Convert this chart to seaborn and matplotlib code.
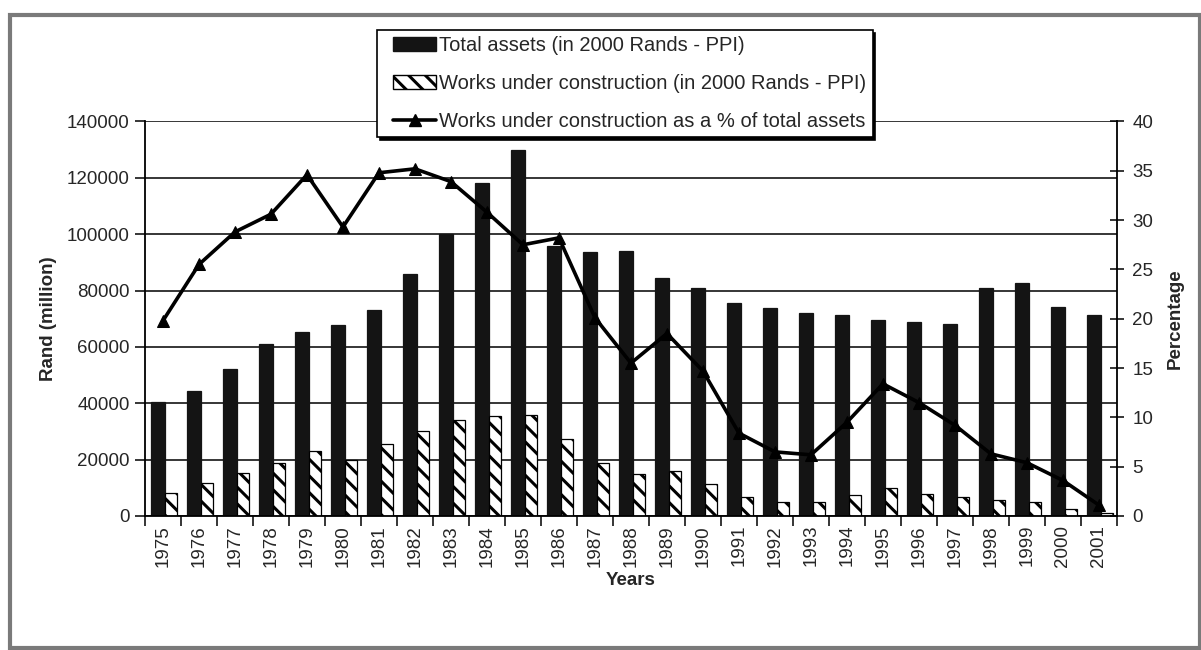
import numpy as np
import pandas as pd
import matplotlib
matplotlib.use("Agg")
import matplotlib.pyplot as plt
from matplotlib.patches import Patch, Rectangle
from matplotlib.lines import Line2D
from matplotlib.legend_handler import HandlerPatch, HandlerLine2D
from matplotlib.ticker import FixedLocator, StrMethodFormatter
import seaborn as sns

# ---- data -------------------------------------------------------------
years = [str(y) for y in range(1975, 2002)]
total_assets = [40600, 44300, 52200, 60900, 65400, 67800, 73200, 85800, 99900,
                118200, 129800, 95700, 93700, 94200, 84500, 80900, 75500, 73700,
                71900, 71300, 69500, 69000, 68300, 80800, 82700, 74200, 71200]
works_construction = [8000, 11600, 15100, 18900, 23000, 19900, 25600, 30300, 34100,
                      35400, 36000, 27200, 18900, 15000, 15800, 11300, 6700, 4900,
                      4900, 7400, 9800, 7900, 6700, 5600, 4900, 2400, 1200]
works_pct = [19.8, 25.5, 28.8, 30.6, 34.6, 29.3, 34.8, 35.2, 33.9, 30.8, 27.5,
             28.2, 20.1, 15.5, 18.5, 14.7, 8.4, 6.5, 6.2, 9.5, 13.4, 11.5, 9.2,
             6.3, 5.4, 3.6, 1.1]

label_total = "Total assets (in 2000 Rands - PPI)"
label_works = "Works under construction (in 2000 Rands - PPI)"
label_pct = "Works under construction as a % of total assets"

# ---- style ------------------------------------------------------------
sns.set_style("ticks")
plt.rcParams["font.family"] = ["Liberation Sans", "DejaVu Sans"]
plt.rcParams["hatch.linewidth"] = 2.2
FS = 13.5
LEG_FS = 14.5
BAR_BLACK = "#141414"

df = pd.DataFrame({
    "Year": years * 2,
    "Series": [label_total] * len(years) + [label_works] * len(years),
    "Value": total_assets + works_construction,
})

fig = plt.figure(figsize=(12.01, 6.5), dpi=100)
ax = fig.add_axes([0.1207, 0.2062, 0.8093, 0.6069])

sns.barplot(data=df, x="Year", y="Value", hue="Series",
            palette=[BAR_BLACK, "white"], saturation=1, width=0.72,
            edgecolor="black", linewidth=0.9, legend=False, ax=ax, zorder=2)

# adjust bar placement within each year slot
black_bars, hatch_bars = ax.containers[0], ax.containers[1]
for p in black_bars:
    p.set_x(p.get_x() + 0.03)
    p.set_width(0.39)
    p.set_edgecolor(BAR_BLACK)
for p in hatch_bars:
    p.set_x(p.get_x() + 0.06)
    p.set_width(0.32)
    p.set_hatch("\\\\")

ax.set_xlim(-0.5, len(years) - 0.5)
ax.set_ylim(0, 140000)
ax.set_yticks(np.arange(0, 140001, 20000))
ax.yaxis.set_major_formatter(StrMethodFormatter("{x:.0f}"))
ax.grid(axis="y", color="black", linewidth=1.1)
ax.grid(axis="x", visible=False)
ax.set_axisbelow(True)

ax.set_xticks(range(len(years)))
ax.set_xticklabels(years, rotation=90, fontsize=FS)
ax.xaxis.set_minor_locator(FixedLocator(np.arange(-0.5, len(years), 1.0)))
ax.tick_params(axis="x", which="major", length=0, pad=6.5)
ax.tick_params(axis="x", which="minor", length=7, width=1.1, color="black",
               direction="out")
ax.tick_params(axis="y", length=7, width=1.1, direction="out", labelsize=FS,
               pad=4, color="black")

for side in ("left", "bottom"):
    ax.spines[side].set_color("black")
    ax.spines[side].set_linewidth(1.3)
ax.spines["top"].set_visible(False)
ax.spines["right"].set_visible(False)

ax.set_xlabel("Years", fontsize=FS, fontweight="bold")
ax.xaxis.set_label_coords(0.5, -0.141)
ax.set_ylabel("Rand (million)", fontsize=FS, fontweight="bold")
ax.yaxis.set_label_coords(-0.0905, 0.5)

# ---- percentage line on secondary axis --------------------------------
ax2 = ax.twinx()
sns.lineplot(x=np.arange(len(years)), y=works_pct, ax=ax2, color="black",
             linewidth=2.6, marker="^", markersize=9, markeredgecolor="black",
             zorder=5)
ax2.set_xlim(-0.5, len(years) - 0.5)
ax2.set_ylim(0, 40)
ax2.set_yticks(np.arange(0, 41, 5))
ax2.tick_params(axis="y", length=10, width=1.1, direction="inout",
                labelsize=FS, pad=6, color="black")
ax2.spines["top"].set_visible(False)
ax2.spines["left"].set_visible(False)
ax2.spines["bottom"].set_visible(False)
ax2.spines["right"].set_color("black")
ax2.spines["right"].set_linewidth(1.3)
ax2.set_ylabel("Percentage", fontsize=FS, fontweight="bold")
ax2.yaxis.set_label_coords(1.0514, 0.5)


# ---- legend -----------------------------------------------------------
HANDLE_INSET = 0.5  # in units of the legend font size


def inset_patch(legend, orig_handle, xdescent, ydescent, width, height, fontsize):
    off = HANDLE_INSET * fontsize
    return Rectangle((-xdescent + off, -ydescent), width - off, height)


class InsetLine(HandlerLine2D):
    def get_xdata(self, legend, xdescent, ydescent, width, height, fontsize):
        off = HANDLE_INSET * fontsize
        xdata = [-xdescent + off, -xdescent + width]
        return xdata, [-xdescent + off + 0.5 * (width - off)]


handles = [
    Patch(facecolor=BAR_BLACK, edgecolor=BAR_BLACK, label=label_total),
    Patch(facecolor="white", edgecolor="black", hatch="\\\\", label=label_works),
    Line2D([], [], color="black", linewidth=2.6, marker="^", markersize=9,
           label=label_pct),
]
patch_handler = HandlerPatch(patch_func=inset_patch)
leg = ax2.legend(handles=handles, loc="upper left",
                 bbox_to_anchor=(377 / 1201, 1 - 30 / 650),
                 bbox_transform=fig.transFigure, fontsize=LEG_FS, frameon=True,
                 fancybox=False, shadow={"color": "black", "alpha": 1},
                 borderpad=0.3, labelspacing=0.95, handlelength=2.65,
                 handleheight=0.72, handletextpad=0.15, borderaxespad=0,
                 handler_map={handles[0]: patch_handler,
                              handles[1]: patch_handler,
                              handles[2]: InsetLine(numpoints=1)})
leg.get_frame().set_edgecolor("black")
leg.get_frame().set_linewidth(1.2)
leg.get_frame().set_alpha(1)
leg.set_zorder(10)

# ---- outer frame --------------------------------------------------------
fig.add_artist(Rectangle((10 / 1201, 2 / 650), 1190 / 1201, 646 / 650 - 13 / 650,
                         transform=fig.transFigure, fill=False,
                         edgecolor="#7a7a7a", linewidth=3))

fig.savefig("out.png", dpi=100)
